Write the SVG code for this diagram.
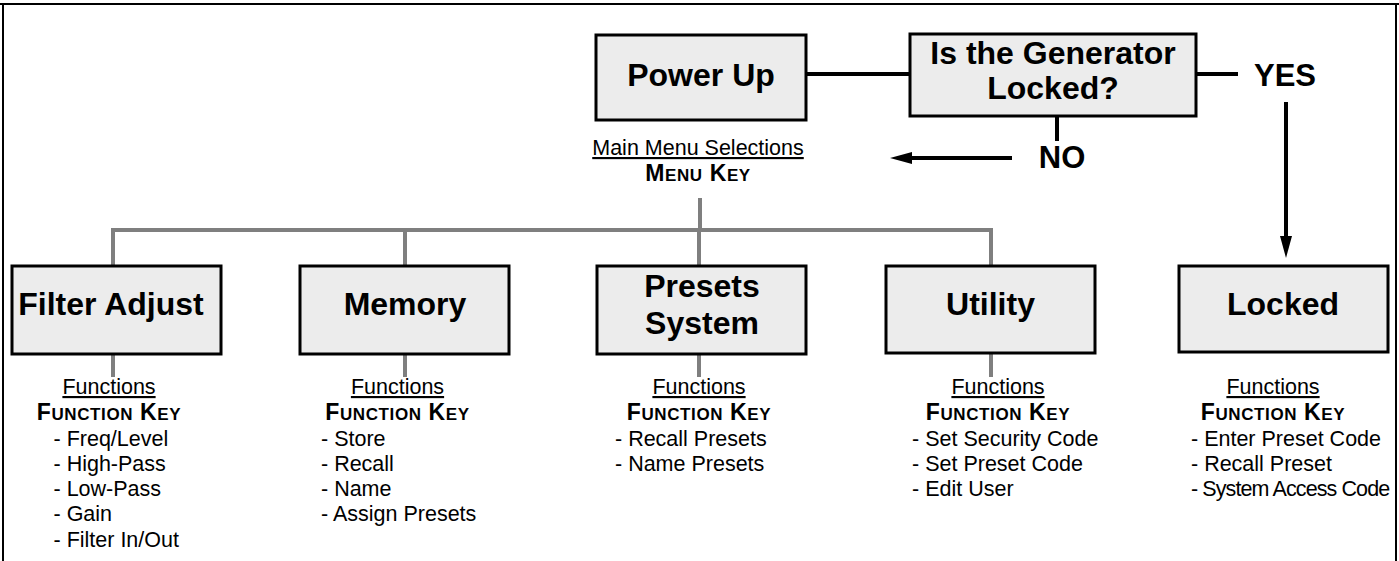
<svg xmlns="http://www.w3.org/2000/svg" width="1399" height="561" viewBox="0 0 1399 561">
<style>
.box{fill:#ececec;stroke:#000;stroke-width:3}
.bl{font-family:"Liberation Sans",Arial,sans-serif;font-weight:bold;font-size:32px;fill:#000;text-anchor:middle}
.big{font-family:"Liberation Sans",Arial,sans-serif;font-weight:bold;font-size:31px;fill:#000;text-anchor:middle}
.u{font-family:"Liberation Sans",Arial,sans-serif;font-size:21.5px;fill:#000;text-anchor:middle;text-decoration:underline}
.k{font-family:"Liberation Sans",Arial,sans-serif;font-weight:bold;font-size:23px;fill:#000;text-anchor:middle;letter-spacing:0.6px}
.sc{font-size:17px}
.it{font-family:"Liberation Sans",Arial,sans-serif;font-size:21.5px;fill:#000}
.g{stroke:#7f7f7f;stroke-width:4;fill:none}
.b{stroke:#000;stroke-width:4;fill:none}
</style>
<defs>
<marker id="ah" viewBox="0 0 22 12" refX="0" refY="6" markerWidth="22" markerHeight="12" markerUnits="userSpaceOnUse" orient="auto">
<path d="M0,0 L22,6 L0,12 Z" fill="#000"/>
</marker>
</defs>
<rect width="1399" height="561" fill="#fff"/>
<g id="frame" fill="none" stroke="#000" stroke-width="2">
<path d="M0,4 H1399 M3,4 V561 M1396,4 V561"/>
</g>
<g id="connectors">
<path class="b" d="M806,74 H910"/>
<path class="b" d="M1196,74 H1238"/>
<path class="b" d="M1057,116 V141"/>
<path class="b" d="M1012,158 H912" marker-end="url(#ah)"/>
<path class="b" d="M1286,102 V236" marker-end="url(#ah)"/>
<path class="g" d="M700,198 V230"/>
<path class="g" d="M113,266 V230 H991 V266"/>
<path class="g" d="M405,230 V266 M699,230 V266"/>
<path class="g" d="M113,354 V377 M405,354 V377 M699,354 V377 M991,354 V377"/>
</g>
<g id="labels">
<text class="big" x="1285" y="86">YES</text>
<text class="big" x="1062" y="168">NO</text>
<text class="u" x="698" y="155">Main Menu Selections</text>
<text class="k" x="698" y="181">M<tspan class="sc">ENU</tspan> K<tspan class="sc">EY</tspan></text>
</g>
<g id="power-up">
<rect class="box" x="596" y="35" width="210" height="85"/>
<text class="bl" x="701" y="86">Power Up</text>
</g>
<g id="generator-locked">
<rect class="box" x="910" y="34" width="286" height="82"/>
<text class="bl" x="1053" y="64">Is the Generator</text>
<text class="bl" x="1053" y="99">Locked?</text>
</g>
<g id="filter-adjust">
<rect class="box" x="12" y="266" width="209" height="88"/>
<text class="bl" x="111" y="315">Filter Adjust</text>
<text class="u" x="109" y="394">Functions</text>
<text class="k" x="109" y="420">F<tspan class="sc">UNCTION</tspan> K<tspan class="sc">EY</tspan></text>
<text class="it" x="53.5" y="446">- Freq/Level</text>
<text class="it" x="53.5" y="471">- High-Pass</text>
<text class="it" x="53.5" y="496">- Low-Pass</text>
<text class="it" x="53.5" y="521">- Gain</text>
<text class="it" x="53.5" y="547">- Filter In/Out</text>
</g>
<g id="memory">
<rect class="box" x="300" y="266" width="209" height="88"/>
<text class="bl" x="405" y="315">Memory</text>
<text class="u" x="397.5" y="394">Functions</text>
<text class="k" x="397.5" y="420">F<tspan class="sc">UNCTION</tspan> K<tspan class="sc">EY</tspan></text>
<text class="it" x="321" y="446">- Store</text>
<text class="it" x="321" y="471">- Recall</text>
<text class="it" x="321" y="496">- Name</text>
<text class="it" x="321" y="521">- Assign Presets</text>
</g>
<g id="presets-system">
<rect class="box" x="597" y="266" width="209" height="88"/>
<text class="bl" x="702" y="297">Presets</text>
<text class="bl" x="702" y="334">System</text>
<text class="u" x="699" y="394">Functions</text>
<text class="k" x="699" y="420">F<tspan class="sc">UNCTION</tspan> K<tspan class="sc">EY</tspan></text>
<text class="it" x="615" y="446">- Recall Presets</text>
<text class="it" x="615" y="471">- Name Presets</text>
</g>
<g id="utility">
<rect class="box" x="886" y="266" width="209" height="87"/>
<text class="bl" x="990.5" y="315">Utility</text>
<text class="u" x="998" y="394">Functions</text>
<text class="k" x="998" y="420">F<tspan class="sc">UNCTION</tspan> K<tspan class="sc">EY</tspan></text>
<text class="it" x="912" y="446">- Set Security Code</text>
<text class="it" x="912" y="471">- Set Preset Code</text>
<text class="it" x="912" y="496">- Edit User</text>
</g>
<g id="locked">
<rect class="box" x="1179" y="266" width="209" height="86"/>
<text class="bl" x="1283" y="315">Locked</text>
<text class="u" x="1273" y="394">Functions</text>
<text class="k" x="1273" y="420">F<tspan class="sc">UNCTION</tspan> K<tspan class="sc">EY</tspan></text>
<text class="it" x="1191" y="446">- Enter Preset Code</text>
<text class="it" x="1191" y="471">- Recall Preset</text>
<text class="it" x="1191" y="496" style="letter-spacing:-0.9px">- System Access Code</text>
</g>
</svg>
